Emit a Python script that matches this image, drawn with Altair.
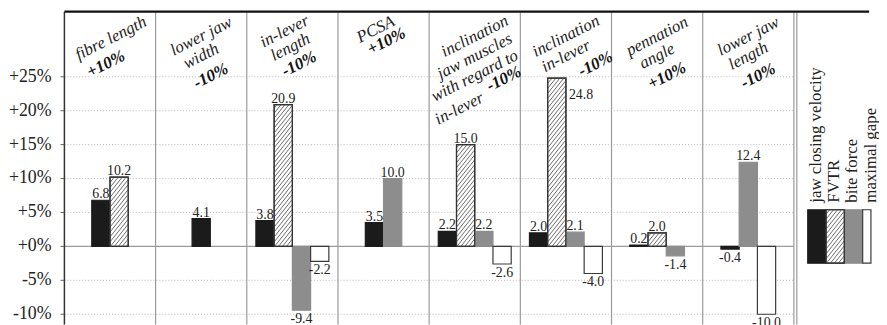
import altair as alt
import pandas as pd

# ---------------- data ----------------
SERIES = ["jaw closing velocity", "FVTR", "bite force", "maximal gape"]
JAW_VELOCITY = [6.8, 4.1, 3.8, 3.5, 2.2, 2.0, 0.2, -0.4]
FVTR_VALUES = [10.2, None, 20.9, None, 15.0, 24.8, 2.0, None]
BITE_FORCE = [None, None, -9.4, 10.0, 2.2, 2.1, -1.4, 12.4]
MAX_GAPE = [None, None, -2.2, None, -2.6, -4.0, None, -10.0]
TITLE_LINES = [
    ["fibre length", "+10%"],
    ["lower jaw", "width", "-10%"],
    ["in-lever", "length", "-10%"],
    ["PCSA", "+10%"],
    ["inclination", "jaw muscles", "with regard to", "in-lever", "-10%"],
    ["inclination", "in-lever", "-10%"],
    ["pennation", "angle", "+10%"],
    ["lower jaw", "length", "-10%"],
]
Y_TICKS = [-10, -5, 0, 5, 10, 15, 20, 25]

# ---------------- layout / style ----------------
N = len(TITLE_LINES)
PANEL_W = 737
PX_X = PANEL_W / N
LEG_GAP, LEG_W = 3, 73
TOTAL_W = PANEL_W + LEG_GAP + LEG_W
X_MAX = TOTAL_W / PX_X
LEG_X0 = (PANEL_W + LEG_GAP) / PX_X
Y_MAX, Y_MIN = 34.6, -11.5
PX_Y = 6.85
PLOT_H = round((Y_MAX - Y_MIN) * PX_Y)
BAR_W = 0.2
SERIF = "Liberation Serif"
FILL = ["#1b1b1b", "#ffffff", "#8d8d8d", "#ffffff"]
STROKE = ["#1b1b1b", "#333333", "#8d8d8d", "#3a3a3a"]
TITLE_ANGLE = 333
T0, TS, BOLD_DX = 25, 20, 10
TITLE_OVERRIDE = {  # (panel, line) -> (dx px, y px from top)
    (0, 0): (1, 27), (0, 1): (-4, 53),
    (2, 0): (-8, 20), (2, 1): (-2, 36), (2, 2): (7, 53),
    (3, 0): (-8, 18), (3, 1): (3, 30),
    (4, 3): (-15.5, 98), (4, 4): (29.5, 68),
    (5, 2): (30, 53),
}
SW_X0, SW_W, SW_TOP, SW_BOT, LEG_TXT = 11, 18.5, 200, 254, 193  # legend, px within legend area


def px_to_y(py):
    return Y_MAX - py / PX_Y


fill_scale = alt.Scale(domain=SERIES, range=FILL)
stroke_scale = alt.Scale(domain=SERIES, range=STROKE)


def hatch_segments(w, h, step=5.0, k=1.25):
    segs = []
    c = -k * w + step * 0.5
    while c < h:
        lo = max(0.0, -c / k)
        hi = min(w, (h - c) / k)
        if hi - lo > 0.3:
            segs.append((lo, c + k * lo, hi, c + k * hi))
        c += step
    return segs


# ---------------- bars (data) ----------------
rows = []
for p in range(N):
    present = [(s, vals[p]) for s, vals in zip(SERIES, [JAW_VELOCITY, FVTR_VALUES, BITE_FORCE, MAX_GAPE])
               if vals[p] is not None]
    n = len(present)
    for r, (s, v) in enumerate(present):
        c = p + 0.5 + (r - (n - 1) / 2) * BAR_W
        rows.append(dict(series=s, value=v, xl=c - BAR_W / 2, xr=c + BAR_W / 2, xc=c,
                         y0=0.0, label=f"{v:.1f}", kind="bar"))
for i, s in enumerate(SERIES):
    xl = LEG_X0 + (SW_X0 + i * SW_W) / PX_X
    rows.append(dict(series=s, value=px_to_y(SW_TOP), xl=xl, xr=min(xl + SW_W / PX_X, X_MAX + 0.02),
                     xc=xl + (SW_W / 2 - 1) / PX_X, y0=px_to_y(SW_BOT), label=s, kind="legend"))
rects = pd.DataFrame(rows)

hrows = []
for _, b in rects[rects.series == "FVTR"].iterrows():
    for u0, w0, u1, w1 in hatch_segments(BAR_W * PX_X, (b.value - b.y0) * PX_Y):
        hrows.append(dict(x=b.xl + u0 / PX_X, y=b.y0 + w0 / PX_Y,
                          x2=b.xl + u1 / PX_X, y2=b.y0 + w1 / PX_Y))
hatch = pd.DataFrame(hrows)

ticks = pd.DataFrame({"v": Y_TICKS})
ticks["lab"] = [("+" if v >= 0 else "") + f"{v}%" for v in Y_TICKS]
ticks["a"] = 0.0
ticks["b"] = float(N)

x_scale = alt.Scale(domain=[0, X_MAX], nice=False, zero=False)
y_scale = alt.Scale(domain=[Y_MIN, Y_MAX], nice=False, zero=False)


def X(f):
    return alt.X(f, scale=x_scale, axis=None)


def Y(f):
    return alt.Y(f, scale=y_scale, axis=None)


tbl = alt.Chart(ticks)
grid = tbl.transform_filter("datum.v != 0").mark_rule(
    color="#b8b8b8", strokeWidth=1, strokeDash=[1, 2]).encode(y=Y("v:Q"), x=X("a:Q"), x2="b:Q")
tick_marks = tbl.mark_rule(color="#666", strokeWidth=1).encode(
    y=Y("v:Q"), x=alt.value(-4), x2=alt.value(0))
tick_labels = tbl.mark_text(font=SERIF, fontSize=18, align="right", baseline="middle",
                            color="#222").encode(y=Y("v:Q"), x=alt.value(-13), text="lab:N")
domain_line = alt.Chart(pd.DataFrame({"a": [0]})).mark_rule(color="#333", strokeWidth=1.5).encode(
    x=alt.value(0), y=alt.value(0), y2=alt.value(PLOT_H))
seps = alt.Chart(pd.DataFrame({"sx": list(range(1, N + 1)) + [LEG_X0]})).mark_rule(
    color="#9a9a9a", strokeWidth=1.2).encode(x=X("sx:Q"), y=alt.value(0), y2=alt.value(PLOT_H))
zero = alt.Chart(pd.DataFrame({"z": [0], "a": [0], "b": [N]})).mark_rule(
    color="#9c9c9c", strokeWidth=1.5).encode(y=Y("z:Q"), x=X("a:Q"), x2="b:Q")

base = alt.Chart(rects)
rect_layer = base.mark_rect(strokeWidth=1.2).encode(
    x=X("xl:Q"), x2="xr:Q", y=Y("value:Q"), y2="y0:Q",
    fill=alt.Fill("series:N", scale=fill_scale, legend=None),
    stroke=alt.Stroke("series:N", scale=stroke_scale, legend=None),
)
hatch_layer = alt.Chart(hatch).mark_rule(color="#444", strokeWidth=0.8).encode(
    x=X("x:Q"), y=Y("y:Q"), x2="x2:Q", y2="y2:Q")
outline = base.transform_filter("datum.series == 'FVTR'").mark_rect(
    fill="transparent", stroke="#333", strokeWidth=1.2).encode(
    x=X("xl:Q"), x2="xr:Q", y=Y("value:Q"), y2="y0:Q")

lab_kw = dict(font=SERIF, fontSize=14, color="#222")
bars_only = base.transform_filter("datum.kind == 'bar'")
pos_lab = bars_only.transform_filter("datum.value >= 0 && datum.value <= 22").mark_text(
    baseline="alphabetic", dy=-2, **lab_kw).encode(x=X("xc:Q"), y=Y("value:Q"), text="label:N")
neg_lab = bars_only.transform_filter("datum.value < 0").mark_text(
    baseline="top", dy=2, **lab_kw).encode(x=X("xc:Q"), y=Y("value:Q"), text="label:N")
side_lab = bars_only.transform_filter("datum.value > 22").mark_text(
    baseline="top", align="left", dx=3, dy=10, **lab_kw).encode(x=X("xr:Q"), y=Y("value:Q"), text="label:N")

leg_txt = base.transform_filter("datum.kind == 'legend'").mark_text(
    font=SERIF, fontSize=17, angle=270, align="left", baseline="middle", color="#222").encode(
    x=X("xc:Q"), y=alt.value(LEG_TXT), text="label:N")

# panel titles: one small layer per title line, positioned from the panel layout
title_layers = []
for p, lines in enumerate(TITLE_LINES):
    for k, t in enumerate(lines):
        bold = k == len(lines) - 1
        dx, ypx = TITLE_OVERRIDE.get((p, k), (BOLD_DX if bold else 0, T0 + TS * k))
        xpx = (p + 0.5) * PX_X + dx
        title_layers.append(
            alt.Chart(pd.DataFrame({"line": [t]})).mark_text(
                font=SERIF, fontStyle="italic", fontWeight="bold" if bold else "normal",
                fontSize=17, angle=TITLE_ANGLE, color="#111" if bold else "#222"
            ).encode(x=alt.value(xpx), y=alt.value(ypx), text="line:N")
        )

top_rule = alt.Chart(pd.DataFrame({"a": [0]})).mark_rule(color="#111", strokeWidth=2.5).encode(
    x=alt.value(0), x2=alt.value(TOTAL_W), y=alt.value(0))

chart = alt.layer(grid, seps, zero, tick_marks, tick_labels, domain_line, rect_layer, hatch_layer,
                  outline, pos_lab, neg_lab, side_lab, leg_txt, *title_layers, top_rule).properties(
    width=TOTAL_W, height=PLOT_H, padding={"left": 0, "top": 0, "right": 0, "bottom": 0}
).configure_view(strokeWidth=0)

chart.save("out.html", embed_options={"renderer": "svg", "actions": False})
